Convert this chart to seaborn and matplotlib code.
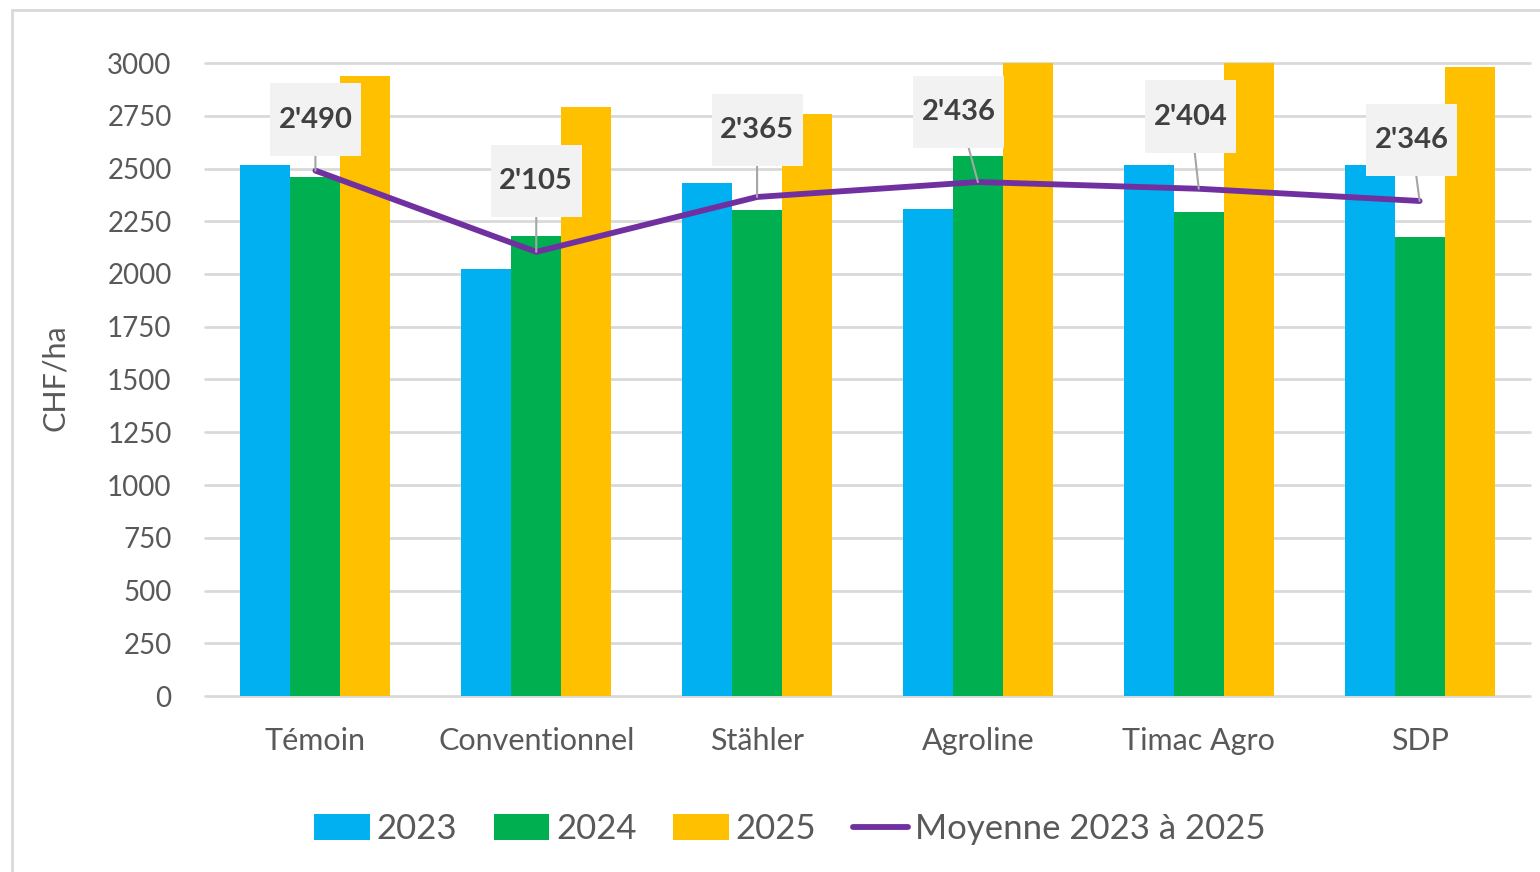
import numpy as np
import pandas as pd
import seaborn as sns
import matplotlib.pyplot as plt
from matplotlib.patches import Patch, Rectangle
from matplotlib.lines import Line2D
from matplotlib.path import Path

# Données (CHF/ha)
categories = ["Témoin", "Conventionnel", "Stähler", "Agroline", "Timac Agro", "SDP"]
years = ["2023", "2024", "2025"]
v2023 = [2517, 2024, 2430, 2307, 2517, 2517]
v2024 = [2461, 2182, 2303, 2561, 2295, 2175]
v2025 = [2938, 2793, 2757, 3080, 3060, 2983]
moyenne = [2490, 2105, 2365, 2436, 2404, 2346]
moyenne_labels = ["2'490", "2'105", "2'365", "2'436", "2'404", "2'346"]

colors = {"2023": "#00B0F0", "2024": "#00B050", "2025": "#FFC000"}
purple = "#7030A0"
txt = "#595959"

df = pd.DataFrame({
    "cat": categories * 3,
    "year": [y for y in years for _ in categories],
    "val": v2023 + v2024 + v2025,
})

sns.set_style("white")
plt.rcParams["font.family"] = ["Lato", "DejaVu Sans"]

fig = plt.figure(figsize=(15.4, 8.72), dpi=100)
ax = fig.add_axes([205 / 1540, 1 - 696 / 872, 1325 / 1540, 633 / 872])

sns.barplot(data=df, x="cat", y="val", hue="year", palette=colors,
            width=0.68, gap=0, saturation=1, ax=ax, legend=False, zorder=2,
            linewidth=0, edgecolor="none")

# Ligne de moyenne
sns.lineplot(x=np.arange(len(categories)), y=moyenne, color=purple, lw=4.2,
             ax=ax, zorder=4, solid_capstyle="round", sort=False)


def label_box(x0, y0, width, height, mutation_size):
    """Boîte d'étiquette type Excel, plus haute que large."""
    px = 0.29 * mutation_size
    py = 0.8 * mutation_size
    x0, y0 = x0 - px, y0 - py
    x1, y1 = x0 + width + 2 * px, y0 + height + 2 * py
    return Path([(x0, y0), (x1, y0), (x1, y1), (x0, y1), (x0, y0)], closed=True)


# offsets (pixels) of the label boxes relative to the points
offsets = [(0, 51), (0, 71), (0, 67), (-19, 70), (-8, 72), (-8, 61)]
for i, (val, lab) in enumerate(zip(moyenne, moyenne_labels)):
    ax.annotate(lab, xy=(i, val), xytext=offsets[i], textcoords="offset pixels",
                ha="center", va="center", fontsize=21, fontweight="bold", color="#404040",
                bbox=dict(boxstyle=label_box, fc="#F2F2F2", ec="none"),
                arrowprops=dict(arrowstyle="-", color="#A6A6A6", lw=1.5,
                                shrinkA=0, shrinkB=0),
                zorder=6, annotation_clip=False)

ax.set_ylim(0, 3000)
ax.set_xlim(-0.5, len(categories) - 0.5)
ax.set_yticks(np.arange(0, 3001, 250))
ax.grid(axis="y", color="#D9D9D9", lw=2, clip_on=False)
ax.set_axisbelow(True)
for s in ax.spines.values():
    s.set_visible(False)
ax.tick_params(axis="y", length=0, pad=24, labelsize=20, labelcolor=txt)
ax.tick_params(axis="x", length=0, pad=22, labelsize=22, labelcolor=txt)
ax.set_xlabel("")
ax.set_ylabel("")

fig.text(55 / 1540, 1 - 378 / 872, "CHF/ha", rotation=90, ha="center", va="center",
         fontsize=22, color=txt)

# Légende
handles = [Patch(facecolor=colors[y], edgecolor="none") for y in years]
handles.append(Line2D([0], [0], color=purple, lw=4.2, solid_capstyle="round"))
fig.legend(handles, years + ["Moyenne 2023 à 2025"], loc="center",
           bbox_to_anchor=(790 / 1540, 1 - 829 / 872), ncol=4, frameon=False,
           fontsize=25, labelcolor=txt, handlelength=1.6, handleheight=0.75,
           handletextpad=0.2, columnspacing=1.05)

# cadre du graphique
fig.patches.append(Rectangle((12 / 1540, -0.1), 1.2, 1.1 - 10 / 872,
                             transform=fig.transFigure, fill=False,
                             ec="#D9D9D9", lw=2))

plt.savefig("out.png", dpi=100)
plt.close(fig)
